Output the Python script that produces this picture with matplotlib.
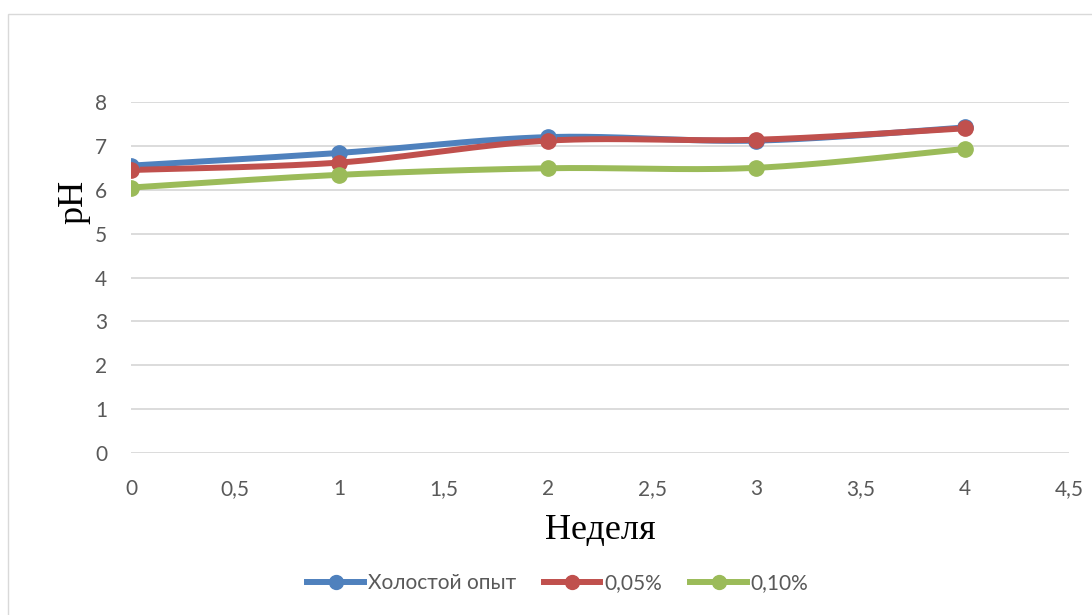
import matplotlib.pyplot as plt
import numpy as np
from matplotlib.patches import Rectangle
from matplotlib.ticker import FuncFormatter
from matplotlib.lines import Line2D

# pH readings per week
weeks = [0, 1, 2, 3, 4]
ph_blank = [6.55, 6.84, 7.20, 7.12, 7.42]
ph_005 = [6.45, 6.62, 7.12, 7.14, 7.40]
ph_010 = [6.05, 6.34, 6.49, 6.50, 6.93]

series_names = ["Холостой опыт", "0,05%", "0,10%"]
series_colors = ["#4F81BD", "#C0504D", "#9BBB59"]

x_ticks = [0, 0.5, 1, 1.5, 2, 2.5, 3, 3.5, 4, 4.5]
y_ticks = [0, 1, 2, 3, 4, 5, 6, 7, 8]

TICK_FONT = "Lato"
LABEL_FONT = "Liberation Serif"


def smooth_curve(xs, ys, n=40):
    # cubic Bezier segments with Catmull-Rom style control points
    pts = np.column_stack([xs, ys]).astype(float)
    ext = np.vstack([pts[0], pts, pts[-1]])
    out = []
    t = np.linspace(0, 1, n)[:, None]
    for i in range(1, len(ext) - 2):
        p0, p1, p2, p3 = ext[i - 1], ext[i], ext[i + 1], ext[i + 2]
        c1 = p1 + (p2 - p0) / 6
        c2 = p2 - (p3 - p1) / 6
        seg = ((1 - t) ** 3) * p1 + 3 * ((1 - t) ** 2) * t * c1 \
            + 3 * (1 - t) * t ** 2 * c2 + t ** 3 * p2
        out.append(seg if i == 1 else seg[1:])
    out = np.vstack(out)
    return out[:, 0], out[:, 1]


fig = plt.figure(figsize=(10.92, 6.15), dpi=100)
W, H = 1092, 615

# chart border
fig.patches.append(Rectangle((8 / W, -0.1), 1.2, 1 - 14 / 615 + 0.1,
                             transform=fig.transFigure, fill=False,
                             edgecolor="#D9D9D9", linewidth=1))

ax = fig.add_axes([131 / W, 1 - 453 / H, (1069 - 131) / W, (453 - 102) / H])

for ys, name, color in zip([ph_blank, ph_005, ph_010], series_names, series_colors):
    sx, sy = smooth_curve(weeks, ys)
    ax.plot(sx, sy, color=color, linewidth=4.3, solid_capstyle="round", zorder=3)
    ax.plot(weeks, ys, "o", color=color, markersize=11, zorder=4)

ax.set_xlim(0, 4.5)
ax.set_ylim(0, 8)
ax.set_xticks(x_ticks)
ax.set_yticks(y_ticks)
comma = FuncFormatter(lambda v, p: ("%g" % v).replace(".", ","))
ax.xaxis.set_major_formatter(comma)
ax.yaxis.set_major_formatter(comma)

for s in ax.spines.values():
    s.set_visible(False)
ax.grid(axis="y", color="#D9D9D9", linewidth=1.3)
ax.set_axisbelow(True)
ax.tick_params(length=0, labelsize=15, labelcolor="#595959")
ax.tick_params(axis="y", pad=17)
ax.tick_params(axis="x", pad=19)
for lbl in ax.get_xticklabels() + ax.get_yticklabels():
    lbl.set_fontfamily(TICK_FONT)

fig.text(74 / W, 1 - 202 / H, "pH", rotation=90, ha="center", va="center",
         fontsize=26, family=LABEL_FONT)
fig.text(600 / W, 1 - 530 / H, "Неделя", ha="center", va="center",
         fontsize=26, family=LABEL_FONT)

handles = [Line2D([], [], color=c, linewidth=4.3, marker="o", markersize=10)
           for c in series_colors]
fig.legend(handles, series_names, loc="center", bbox_to_anchor=(558 / W, 1 - 583 / H),
           ncol=3, frameon=False, handlelength=2.7, handletextpad=0.2,
           columnspacing=1.35, prop={"family": TICK_FONT, "size": 15},
           labelcolor="#595959")

fig.savefig("out.png", dpi=100)
